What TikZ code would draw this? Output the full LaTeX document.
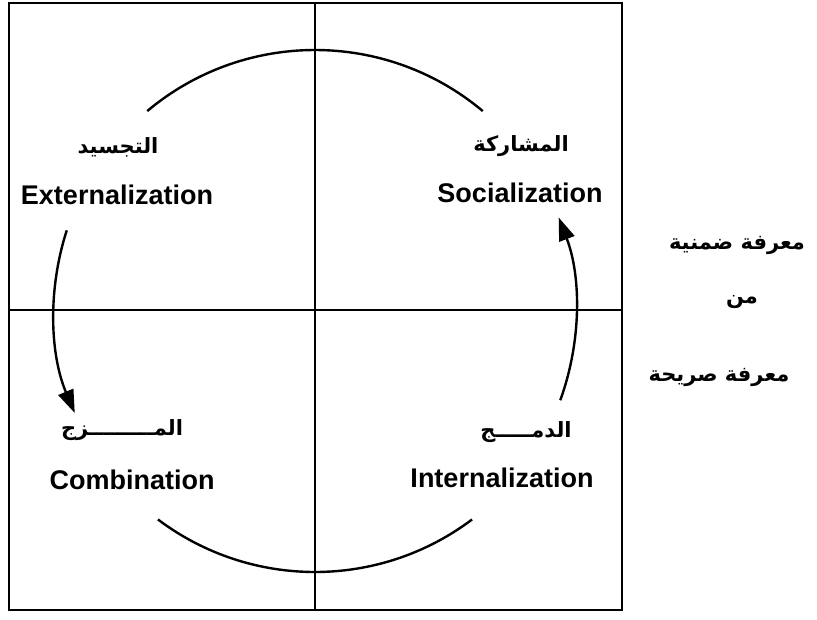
\documentclass[tikz,border=0pt]{standalone}
\usepackage{fontspec}
\setmainfont{Liberation Sans}
\newfontfamily\arabicfont[Script=Arabic]{DejaVu Sans}
\TeXXeTstate=1
\usetikzlibrary{arrows.meta}

\tikzset{
  quad/.style={line width=1.6pt},
  cyc/.style={line width=2.4pt},
  flow/.style={cyc,-{Triangle[length=23pt,width=16pt]}},
  en/.style={font=\fontsize{27}{30}\selectfont\bfseries},
  ar/.style={font=\fontsize{21}{24}\selectfont\arabicfont\bfseries},
  side/.style={font=\fontsize{21}{26}\selectfont\arabicfont\bfseries},
}

\begin{document}
\begin{tikzpicture}[x=1pt,y=1pt]
        \useasboundingbox (0,0) rectangle (817,-620);

        % the four quadrants
        \coordinate (nw) at (9,-3);
        \coordinate (se) at (622,-610);
        \coordinate (mid) at (315,-310);
        \draw[quad] (nw) rectangle (se);
        \draw[quad] (nw -| mid) -- (se -| mid);
        \draw[quad] (nw |- mid) -- (se |- mid);

        % labels
        \node[ar] (extar) at (118,-147) {\beginR التجسيد\endR};
        \node[en] (exten) at (117,-195) {Externalization};
        \node[ar] (socar) at (521,-146) {\beginR المشاركة\endR};
        \node[en] (socen) at (520,-193) {Socialization};
        \node[ar] (comar) at (122,-430) {\beginR المـــــــــزج\endR};
        \node[en] (comen) at (132,-480) {Combination};
        \node[ar] (intar) at (526,-432) {\beginR الدمـــــج\endR};
        \node[en] (inten) at (502,-478) {Internalization};

        \node[side] (tacit) at (737,-245) {\beginR معرفة ضمنية\endR};
        \node[side] (from) at (742,-302) {\beginR من\endR};
        \node[side] (explicit) at (719,-377) {\beginR معرفة صريحة\endR};

        % the cycle
        \coordinate (c) at (315,-311);
        \coordinate (topR) at ([shift={(50:261)}]c);
        \coordinate (botL) at ([shift={(233:261)}]c);
        \coordinate (extout) at ([shift={(162:261)}]c);
        \coordinate (intout) at ([shift={(-20:261)}]c);
        \draw[cyc] (topR) arc[start angle=50, end angle=130, radius=261];
        \draw[cyc] (botL) arc[start angle=233, end angle=307, radius=261];
        \draw[flow] (extout) arc[start angle=162, end angle=203, radius=261];
        \draw[flow] (intout) arc[start angle=-20, end angle=21, radius=261];
\end{tikzpicture}
\end{document}
